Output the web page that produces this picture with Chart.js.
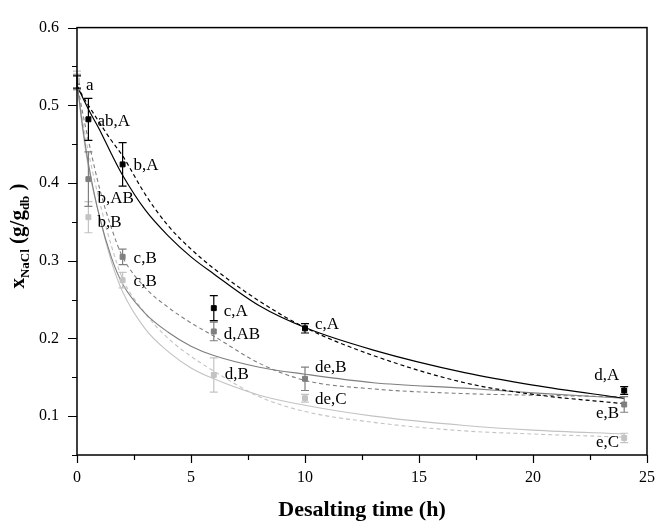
<!DOCTYPE html>
<html>
<head>
<meta charset="utf-8">
<script src="https://cdn.jsdelivr.net/npm/chart.js@4.4.1/dist/chart.umd.min.js"></script>
<style>
  html, body { margin: 0; padding: 0; background: #fff; }
</style>
</head>
<body>
<canvas id="chart" width="668" height="521"></canvas>
<script>
// sampling times (h)
const timeH = [0, 0.5, 2, 6, 10, 24];

// measured salt content, black / dark grey / light grey series
const blackMean = [0.530, 0.482, 0.424, 0.239, 0.213, 0.133];
const blackErr  = [0.008, 0.027, 0.028, 0.016, 0.006, 0.005];
const blackTags = ['a', 'ab,A', 'b,A', 'c,A', 'c,A', 'd,A'];

const darkMean = [0.530, 0.405, 0.305, 0.209, 0.148, 0.115];
const darkErr  = [0.010, 0.035, 0.010, 0.012, 0.015, 0.010];
const darkTags = ['', 'b,AB', 'c,B', 'd,AB', 'de,B', 'e,B'];

const lightMean = [0.532, 0.356, 0.275, 0.153, 0.123, 0.072];
const lightErr  = [0.012, 0.020, 0.010, 0.022, 0.005, 0.006];
const lightTags = ['', 'b,B', 'c,B', 'd,B', 'de,C', 'e,C'];

// fitted curves
const fitT = [0, 0.25, 0.5, 1, 1.5, 2, 3, 4, 5, 6, 8, 10, 13, 17, 20, 24];
const blackFitSolid  = [0.525, 0.510, 0.495, 0.468, 0.438, 0.410, 0.365, 0.332, 0.305, 0.283, 0.242, 0.214, 0.185, 0.156, 0.140, 0.123];
const blackFitDashed = [0.525, 0.512, 0.500, 0.477, 0.455, 0.435, 0.385, 0.345, 0.315, 0.290, 0.248, 0.214, 0.178, 0.143, 0.128, 0.116];
const darkFitSolid   = [0.530, 0.472, 0.425, 0.355, 0.305, 0.270, 0.232, 0.208, 0.190, 0.178, 0.163, 0.154, 0.143, 0.136, 0.130, 0.123];
const darkFitDashed  = [0.530, 0.490, 0.455, 0.392, 0.343, 0.305, 0.265, 0.240, 0.220, 0.203, 0.168, 0.146, 0.135, 0.129, 0.127, 0.125];
const lightFitSolid  = [0.530, 0.468, 0.420, 0.355, 0.300, 0.260, 0.212, 0.183, 0.162, 0.148, 0.127, 0.114, 0.100, 0.088, 0.082, 0.077];
const lightFitDashed = [0.530, 0.480, 0.440, 0.375, 0.320, 0.277, 0.232, 0.200, 0.177, 0.158, 0.125, 0.106, 0.092, 0.081, 0.077, 0.073];

const xTicks = [0, 5, 10, 15, 20, 25];
const yTicks = [0.1, 0.2, 0.3, 0.4, 0.5, 0.6];

// pixel offsets of the letter labels from their points
const blackTagOffset = [[9, 4], [9, 2], [11, 1], [10, 3], [10, -4], [-5, -15]];
const darkTagOffset  = [[0, 0], [9, 19], [11, 2], [10, 3], [10, -11], [-5, 9]];
const lightTagOffset = [[0, 0], [9, 5], [11, 1], [11, 0], [10, 1], [-5, 5]];

const BLACK = '#000000', DARK = '#7f7f7f', LIGHT = '#c3c3c3';
const SERIF = "'Liberation Serif', 'Times New Roman', serif";

function pts(xs, ys) {
    return xs.map((x, i) => ({ x: x, y: ys[i] }));
}

function fitLine(values, color, dashed, width) {
    return {
        data: pts(fitT, values),
        borderColor: color,
        borderWidth: width,
        borderDash: dashed ? [4, 3] : [],
        pointRadius: 0,
        fill: false,
        cubicInterpolationMode: 'monotone'
    };
}

function markers(means, errs, tags, offsets, color) {
    return {
        data: pts(timeH, means),
        showLine: false,
        pointStyle: 'rect',
        pointRadius: 3.5,
        pointBackgroundColor: color,
        pointBorderColor: color,
        borderColor: color,
        errors: errs,
        tags: tags,
        tagOffsets: offsets
    };
}

// Error bars and letter labels drawn through the scales
const errorBars = {
    id: 'errorBars',
    afterDatasetsDraw(chart) {
        const { ctx, scales: { x, y } } = chart;
        ctx.save();
        chart.data.datasets.forEach(ds => {
            if (!ds.errors) return;
            ctx.strokeStyle = ds.borderColor;
            ctx.lineWidth = 1.2;
            ds.data.forEach((p, i) => {
                const px = x.getPixelForValue(p.x);
                const top = y.getPixelForValue(p.y + ds.errors[i]);
                const bot = y.getPixelForValue(p.y - ds.errors[i]);
                ctx.beginPath();
                ctx.moveTo(px, top); ctx.lineTo(px, bot);
                ctx.moveTo(px - 4, top); ctx.lineTo(px + 4, top);
                ctx.moveTo(px - 4, bot); ctx.lineTo(px + 4, bot);
                ctx.stroke();
            });
        });
        ctx.fillStyle = '#000';
        ctx.font = '17px ' + SERIF;
        ctx.textBaseline = 'middle';
        chart.data.datasets.forEach(ds => {
            if (!ds.tags) return;
            ds.data.forEach((p, i) => {
                const tag = ds.tags[i];
                if (!tag) return;
                const off = ds.tagOffsets[i];
                ctx.textAlign = off[0] < 0 ? 'right' : 'left';
                ctx.fillText(tag, x.getPixelForValue(p.x) + off[0], y.getPixelForValue(p.y) + off[1]);
            });
        });
        ctx.restore();
    }
};

// Box, major/minor ticks and axis titles
const frame = {
    id: 'frame',
    afterDraw(chart) {
        const { ctx, chartArea: a, scales: { x, y } } = chart;
        ctx.save();
        ctx.strokeStyle = '#000';
        ctx.lineWidth = 1.5;
        ctx.strokeRect(a.left, a.top, a.right - a.left, a.bottom - a.top);

        ctx.lineWidth = 1.2;
        ctx.beginPath();
        for (let i = 0; i <= 10; i++) {
            const px = Math.round(x.getPixelForValue(i * 2.5)) + 0.5;
            ctx.moveTo(px, a.bottom);
            ctx.lineTo(px, a.bottom + (i % 2 === 0 ? 8 : 5));
        }
        for (let i = 1; i <= 12; i++) {
            const py = Math.round(y.getPixelForValue(i * 0.05)) + 0.5;
            ctx.moveTo(a.left, py);
            ctx.lineTo(a.left - (i % 2 === 0 ? 9 : 5), py);
        }
        ctx.stroke();

        // x title
        ctx.fillStyle = '#000';
        ctx.textAlign = 'center';
        ctx.textBaseline = 'alphabetic';
        ctx.font = 'bold 22px ' + SERIF;
        ctx.fillText('Desalting time (h)', (a.left + a.right) / 2, 516);

        // y title with subscripts
        const parts = [
            ['x', 'bold 21px ', 0],
            ['NaCl', 'bold 13px ', 5],
            [' (g/g', 'bold 21px ', 0],
            ['db', 'bold 13px ', 5],
            [' )', 'bold 21px ', 0]
        ];
        let total = 0;
        parts.forEach(pt => { ctx.font = pt[1] + SERIF; total += ctx.measureText(pt[0]).width; });
        ctx.translate(24, 236);
        ctx.rotate(-Math.PI / 2);
        ctx.textAlign = 'left';
        let cx = -total / 2;
        parts.forEach(pt => {
            ctx.font = pt[1] + SERIF;
            ctx.fillText(pt[0], cx, pt[2]);
            cx += ctx.measureText(pt[0]).width;
        });
        ctx.restore();
    }
};

new Chart(document.getElementById('chart'), {
    type: 'line',
    data: {
        datasets: [
            markers(lightMean, lightErr, lightTags, lightTagOffset, LIGHT),
            markers(darkMean, darkErr, darkTags, darkTagOffset, DARK),
            markers(blackMean, blackErr, blackTags, blackTagOffset, BLACK),
            fitLine(blackFitSolid, BLACK, false, 1.2),
            fitLine(blackFitDashed, BLACK, true, 1.2),
            fitLine(darkFitSolid, DARK, false, 1.1),
            fitLine(darkFitDashed, DARK, true, 1.1),
            fitLine(lightFitSolid, LIGHT, false, 1.1),
            fitLine(lightFitDashed, LIGHT, true, 1.1)
        ]
    },
    options: {
        responsive: false,
        animation: false,
        layout: { padding: { left: 0, top: 20, right: 8, bottom: 0 } },
        plugins: { legend: { display: false }, tooltip: { enabled: false } },
        scales: {
            x: {
                type: 'linear',
                min: 0,
                max: 25,
                afterBuildTicks: s => { s.ticks = xTicks.map(v => ({ value: v })); },
                afterFit: s => { s.height = 66; },
                grid: { display: false, drawTicks: false },
                border: { display: false },
                ticks: { color: '#000', padding: 13, font: { family: SERIF, size: 16 }, maxRotation: 0 }
            },
            y: {
                min: 0.05,
                max: 0.6,
                afterBuildTicks: s => { s.ticks = yTicks.map(v => ({ value: v })); },
                afterFit: s => { s.width = 77; },
                grid: { display: false, drawTicks: false },
                border: { display: false },
                ticks: {
                    color: '#000',
                    padding: 18,
                    font: { family: SERIF, size: 16 },
                    callback: v => v.toFixed(1)
                }
            }
        }
    },
    plugins: [errorBars, frame]
});
</script>
</body>
</html>
